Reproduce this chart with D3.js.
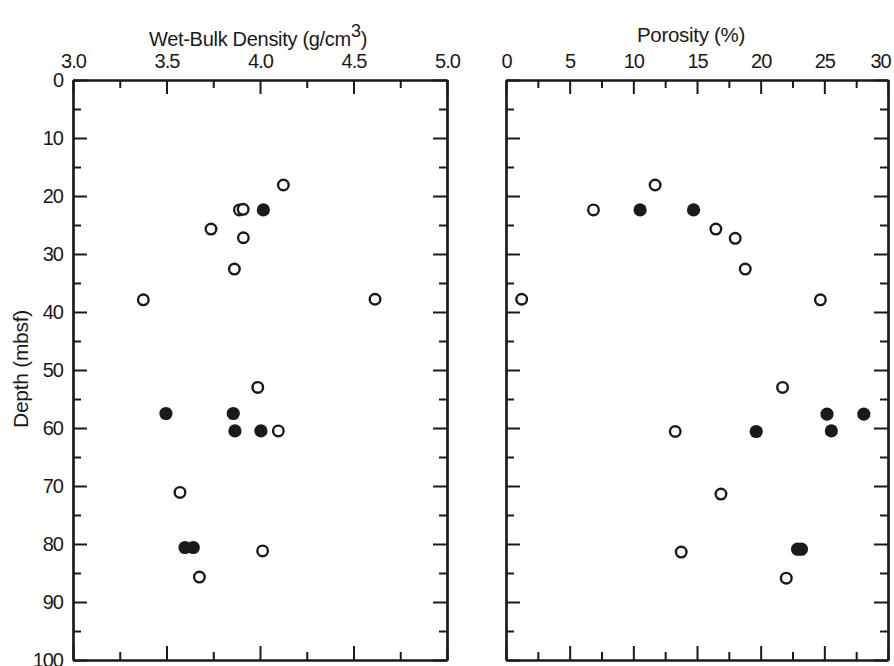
<!DOCTYPE html>
<html>
<head>
<meta charset="utf-8">
<script src="https://cdn.jsdelivr.net/npm/d3@7"></script>
<style>
  body { margin: 0; background: #fff; }
  text { font-family: "Liberation Sans", Arial, sans-serif; fill: #1a1a1a; }
</style>
</head>
<body>
<svg id="svg" width="894" height="666"></svg>
<script>
// depth (mbsf), value
const densityOpen = [[18.1, 4.125], [22.4, 3.89], [22.3, 3.91], [25.7, 3.738], [27.2, 3.911],
  [32.6, 3.863], [37.9, 3.376], [37.8, 4.615], [53.0, 3.988], [60.5, 4.098], [71.1, 3.572],
  [81.2, 4.014], [85.7, 3.676]];
const densityFilled = [[22.4, 4.018], [57.5, 3.497], [57.5, 3.857], [60.5, 3.866], [60.5, 4.005],
  [80.6, 3.599], [80.6, 3.643]];
const porosityOpen = [[18.1, 11.71], [22.4, 6.87], [25.7, 16.48], [27.3, 18.0], [32.6, 18.79],
  [37.8, 1.23], [37.9, 24.69], [53.0, 21.72], [60.6, 13.29], [71.4, 16.88], [81.4, 13.76],
  [85.9, 22.01]];
const porosityFilled = [[22.4, 10.53], [22.4, 14.73], [57.6, 25.21], [57.6, 28.1], [60.5, 25.55],
  [60.6, 19.65], [80.9, 22.9], [80.9, 23.2]];

const depthTicks = d3.range(0, 101, 10);
const depthMinor = d3.range(5, 100, 10);
const densityTicks = [3.0, 3.5, 4.0, 4.5, 5.0];
const densityMinor = [3.25, 3.75, 4.25, 4.75];
const porosityTicks = [0, 5, 10, 15, 20, 25, 30];
const porosityMinor = [2.5, 7.5, 12.5, 17.5, 22.5, 27.5];

const plotTop = 80, plotBottom = 660;
const svg = d3.select('#svg');

const yScale = d3.scaleLinear().domain([0, 100]).range([plotTop, plotBottom]);

function panel(opts) {
  const xScale = d3.scaleLinear().domain(opts.domain).range([opts.left, opts.right]);
  const g = svg.append('g');

  // top axis with labels
  g.append('g').attr('transform', `translate(0,${plotTop})`)
    .call(d3.axisTop(xScale).tickValues(opts.ticks).tickSizeInner(-14).tickSizeOuter(0)
      .tickPadding(12).tickFormat(opts.fmt));
  g.append('g').attr('transform', `translate(0,${plotTop})`)
    .call(d3.axisTop(xScale).tickValues(opts.minor).tickSizeInner(-8).tickSizeOuter(0).tickFormat(''));
  // bottom axis
  g.append('g').attr('transform', `translate(0,${plotBottom})`)
    .call(d3.axisBottom(xScale).tickValues(opts.ticks).tickSizeInner(-14).tickSizeOuter(0).tickFormat(''));
  g.append('g').attr('transform', `translate(0,${plotBottom})`)
    .call(d3.axisBottom(xScale).tickValues(opts.minor).tickSizeInner(-8).tickSizeOuter(0).tickFormat(''));
  // left axis
  g.append('g').attr('transform', `translate(${opts.left},0)`)
    .call(d3.axisLeft(yScale).tickValues(depthTicks).tickSizeInner(-14).tickSizeOuter(0)
      .tickPadding(10).tickFormat(opts.yLabels ? d3.format('d') : ''));
  g.append('g').attr('transform', `translate(${opts.left},0)`)
    .call(d3.axisLeft(yScale).tickValues(depthMinor).tickSizeInner(-8).tickSizeOuter(0).tickFormat(''));
  // right axis
  g.append('g').attr('transform', `translate(${opts.right},0)`)
    .call(d3.axisRight(yScale).tickValues(depthTicks).tickSizeInner(-14).tickSizeOuter(0).tickFormat(''));
  g.append('g').attr('transform', `translate(${opts.right},0)`)
    .call(d3.axisRight(yScale).tickValues(depthMinor).tickSizeInner(-8).tickSizeOuter(0).tickFormat(''));

  g.selectAll('.domain').attr('stroke', '#1a1a1a').attr('stroke-width', 2.2);
  g.selectAll('.tick line').attr('stroke', '#1a1a1a').attr('stroke-width', 2);
  g.selectAll('.tick text').style('font-size', '20px').style('letter-spacing', '-1px')
    .attr('fill', '#1a1a1a');

  // points
  g.selectAll('.open').data(opts.open).enter().append('circle')
    .attr('cx', d => xScale(d[1])).attr('cy', d => yScale(d[0]))
    .attr('r', 5.3).attr('fill', '#fff').attr('stroke', '#1a1a1a').attr('stroke-width', 2.4);
  g.selectAll('.filled').data(opts.filled).enter().append('circle')
    .attr('cx', d => xScale(d[1])).attr('cy', d => yScale(d[0]))
    .attr('r', 6.6).attr('fill', '#1a1a1a');

  return g;
}

panel({ domain: [3, 5], left: 73, right: 447, ticks: densityTicks, minor: densityMinor,
  fmt: d3.format('.1f'), yLabels: true, open: densityOpen, filled: densityFilled });
const right = panel({ domain: [0, 30], left: 506, right: 888, ticks: porosityTicks, minor: porosityMinor,
  fmt: d3.format('d'), yLabels: false, open: porosityOpen, filled: porosityFilled });
// last label sits against the page edge
right.selectAll('.tick text').filter(d => d === 30).attr('dx', -8);

// titles
const t1 = svg.append('text').attr('x', 258).attr('y', 46).attr('text-anchor', 'middle')
  .style('font-size', '20px').style('letter-spacing', '-0.3px');
t1.append('tspan').text('Wet-Bulk Density (g/cm');
t1.append('tspan').attr('dy', -9).style('font-size', '18px').text('3');
t1.append('tspan').attr('dy', 9).text(')');

svg.append('text').attr('x', 691).attr('y', 42).attr('text-anchor', 'middle')
  .style('font-size', '20.5px').style('letter-spacing', '-0.3px').text('Porosity (%)');

svg.append('text').attr('transform', 'translate(28,369) rotate(-90)').attr('text-anchor', 'middle')
  .style('font-size', '21px').style('letter-spacing', '-0.3px').text('Depth (mbsf)');
</script>
</body>
</html>
